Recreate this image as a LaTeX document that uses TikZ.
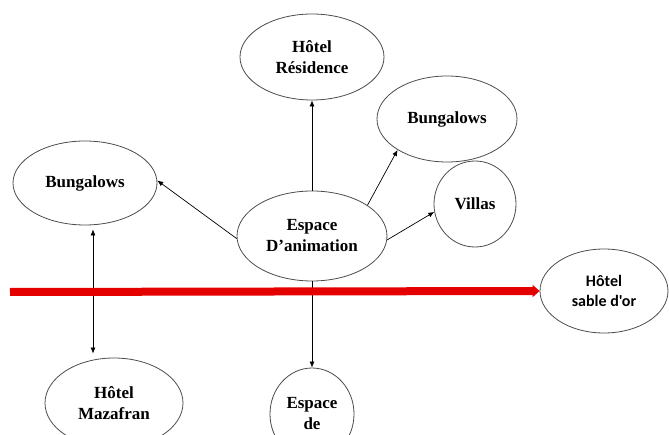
\documentclass[tikz,border=0pt]{standalone}
\usepackage{fontspec}
\setmainfont{Liberation Serif}
\newfontfamily\sablefont{Carlito}
\usetikzlibrary{arrows.meta,shapes.geometric}

\begin{document}
\begin{tikzpicture}[x=1pt,y=-1pt,
  main node/.style={ellipse,draw=black!70,line width=0.8pt,inner sep=0pt,align=center,
    font=\bfseries\fontsize{17}{21}\selectfont},
  link/.style={-{Latex[length=6pt,width=5pt]},line width=0.7pt},
  road/.style={draw=red!90!black,line width=8pt,-{Triangle[length=7pt,width=12pt]}}]%
  \useasboundingbox (0,0) rectangle (669,435);
  \clip (0,0) rectangle (669,435);
  \node[main node,minimum width=144pt,minimum height=86pt] (res) at (312,57) {H\^otel\\R\'esidence};
  \node[main node,minimum width=140pt,minimum height=86pt] (bungR) at (447,119) {Bungalows};
  \node[main node,minimum width=82pt,minimum height=86pt] (vil) at (475,204) {Villas};
  \node[main node,minimum width=150pt,minimum height=90pt] (esp) at (312,236) {Espace\\D'animation};
  \node[main node,minimum width=144pt,minimum height=84pt] (bungL) at (85,183) {Bungalows};
  \node[main node,minimum width=138pt,minimum height=90pt] (maz) at (114,403) {H\^otel\\Mazafran};
  \node[main node,minimum width=84pt,minimum height=92pt] (loisir) at (312,414) {Espace\\de};
  \node[main node,minimum width=128pt,minimum height=84pt,
    font=\sablefont\bfseries\fontsize{16}{20}\selectfont] (sable) at (604,291) {H\^otel\\sable d'or};
  \coordinate (start) at (10,292);
  % liaisons depuis l'espace d'animation
  \draw[link] (esp.north) -- (res.south);
  \draw[link] (esp.29) -- (bungR.212);
  \draw[link] (esp.357) -- (vil.191);
  \draw[link] (esp.182) -- (bungL.2);
  \draw[link] (esp.south) -- (loisir.north);
  \draw[link,{Latex[length=6pt,width=5pt]}-{Latex[length=6pt,width=5pt]},shorten <=4pt,shorten >=4pt]
    ([xshift=8pt]bungL.south) -- ([xshift=8pt]bungL.south |- maz.north);
  % axe principal
  \draw[road] (start) -- (sable.west);
\end{tikzpicture}
\end{document}
